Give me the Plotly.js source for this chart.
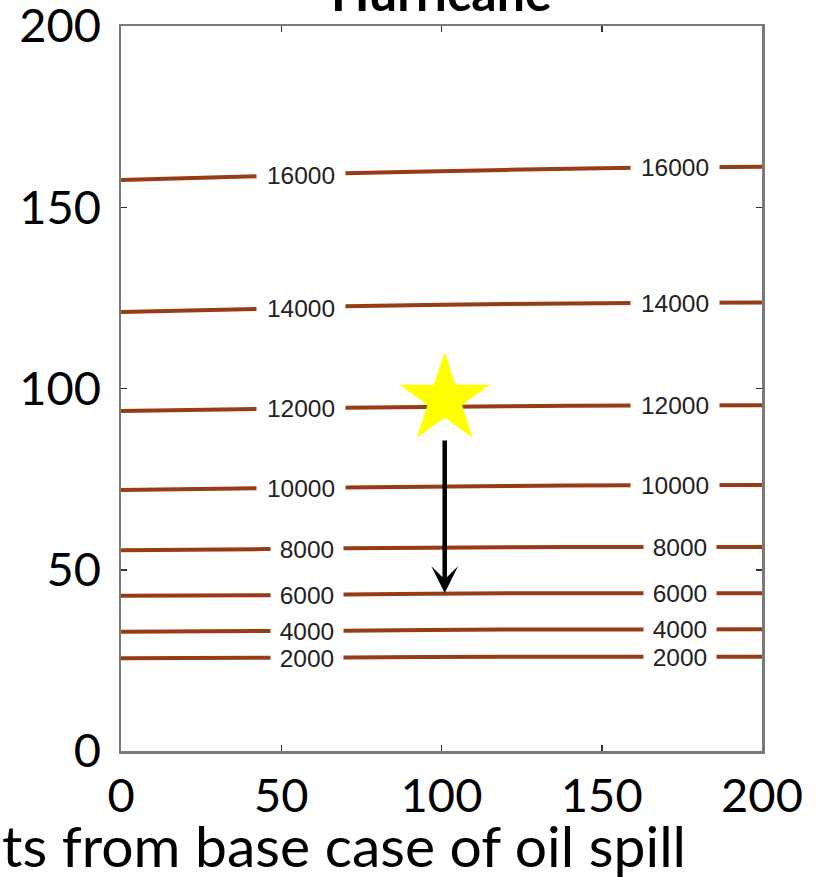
<!DOCTYPE html>
<html>
<head>
<meta charset="utf-8">
<script src="https://cdn.plot.ly/plotly-3.0.1.min.js"></script>
<style>html,body{margin:0;padding:0;background:#fff;}#chart{width:821px;height:877px;}</style>
</head>
<body>
<div id="chart"></div>
<script>
// ---- data ----
const levels = [16000, 14000, 12000, 10000, 8000, 6000, 4000, 2000];
const levelLabels = ['16000', '14000', '12000', '10000', '8000', '6000', '4000', '2000'];
const lineX = [0, 45, 70, 120, 160, 200];
const y16000 = [157.5, 158.6, 159.4, 160.3, 160.9, 161.2];
const y14000 = [121.1, 122.0, 122.7, 123.3, 123.6, 123.7];
const y12000 = [93.8, 94.4, 94.7, 95.1, 95.3, 95.4];
const y10000 = [72.0, 72.5, 72.7, 73.1, 73.3, 73.4];
const y8000  = [55.4, 55.7, 55.9, 56.2, 56.3, 56.3];
const y6000  = [42.8, 43.0, 43.2, 43.5, 43.5, 43.5];
const y4000  = [32.9, 33.1, 33.2, 33.5, 33.5, 33.6];
const y2000  = [25.6, 25.7, 25.8, 26.0, 26.0, 26.0];
const lineYs = [y16000, y14000, y12000, y10000, y8000, y6000, y4000, y2000];
const labelLeftX  = [56.3, 56.3, 56.3, 56.3, 57.9, 57.9, 57.9, 57.9];
const labelRightX = [173.0, 173.0, 173.0, 173.0, 174.4, 174.4, 174.4, 174.4];
const labelLeftY  = [159.0, 122.3, 94.5, 72.6, 55.8, 43.1, 33.15, 25.75];
const labelRightY = [161.1, 123.65, 95.35, 73.35, 56.3, 43.5, 33.55, 26.0];
const starX = [101];
const starY = [97];
const arrowFrom = [101, 86.1];
const arrowTo = [101, 43.6];
const xTicks = [0, 50, 100, 150, 200];
const yTicks = [0, 50, 100, 150, 200];
const titleText = 'Hurricane';
const xTitleText = 'ts from base case of oil spill';

// ---- build ----
const lineColor = 'rgb(150,60,22)';
const traces = lineYs.map((ys, i) => ({
  type: 'scatter', mode: 'lines', x: lineX, y: ys,
  line: {color: lineColor, width: 4, shape: 'spline', smoothing: 0.6},
  hoverinfo: 'skip', showlegend: false, name: levelLabels[i]
}));
traces.push({
  type: 'scatter', mode: 'markers', x: starX, y: starY,
  marker: {symbol: 'star', size: 68, color: '#ffff00', line: {width: 0}},
  showlegend: false, hoverinfo: 'skip'
});

const annotations = [];
levelLabels.forEach((lab, i) => {
  const w = lab.length === 5 ? 88 : 72;
  [[labelLeftX[i], labelLeftY[i]], [labelRightX[i], labelRightY[i]]].forEach(p => {
    annotations.push({
      x: p[0], y: p[1], xref: 'x', yref: 'y', text: lab, showarrow: false,
      font: {family: 'Liberation Sans, Arial, sans-serif', size: 24.5, color: '#222'},
      bgcolor: '#ffffff', width: w, height: 22, borderpad: 0, align: 'center',
      xanchor: 'center', yanchor: 'middle'
    });
  });
});
annotations.push({
  x: arrowTo[0], y: arrowTo[1], ax: arrowFrom[0], ay: arrowFrom[1],
  xref: 'x', yref: 'y', axref: 'x', ayref: 'y', text: '', showarrow: true,
  arrowhead: 3, arrowsize: 1, arrowwidth: 4.5, arrowcolor: '#000'
});
annotations.push({
  x: 0.5, y: 1, xref: 'paper', yref: 'paper', text: '<b>' + titleText + '</b>',
  showarrow: false, xanchor: 'center', yanchor: 'bottom', yshift: 2,
  font: {family: 'Lato, sans-serif', size: 50, color: '#000'}
});
annotations.push({
  x: -121/641, y: 0, xref: 'paper', yref: 'paper', text: xTitleText,
  showarrow: false, xanchor: 'left', yanchor: 'top', yshift: -58,
  font: {family: 'Lato, sans-serif', size: 57, color: '#000'}
});

const axisCommon = {
  range: [0, 200], showgrid: false, zeroline: false,
  showline: true, linecolor: '#7a7a7a', linewidth: 2.5, mirror: 'ticks',
  ticks: 'inside', ticklen: 6, tickwidth: 1.5, tickcolor: '#333',
  ticklabeloverflow: 'allow',
  tickfont: {family: 'Lato, sans-serif', size: 47, color: '#000'}
};
const layout = {
  width: 821, height: 877,
  margin: {l: 121, r: 59, t: 26, b: 126},
  paper_bgcolor: '#fff', plot_bgcolor: '#fff',
  xaxis: Object.assign({}, axisCommon, {tickvals: xTicks, ticktext: xTicks.map(String), ticklabelstandoff: 2}),
  yaxis: Object.assign({}, axisCommon, {tickvals: yTicks, ticktext: yTicks.map(String), ticklabelstandoff: 8}),
  annotations: annotations,
  showlegend: false
};
Plotly.newPlot('chart', traces, layout, {displayModeBar: false, staticPlot: true});
</script>
</body>
</html>
